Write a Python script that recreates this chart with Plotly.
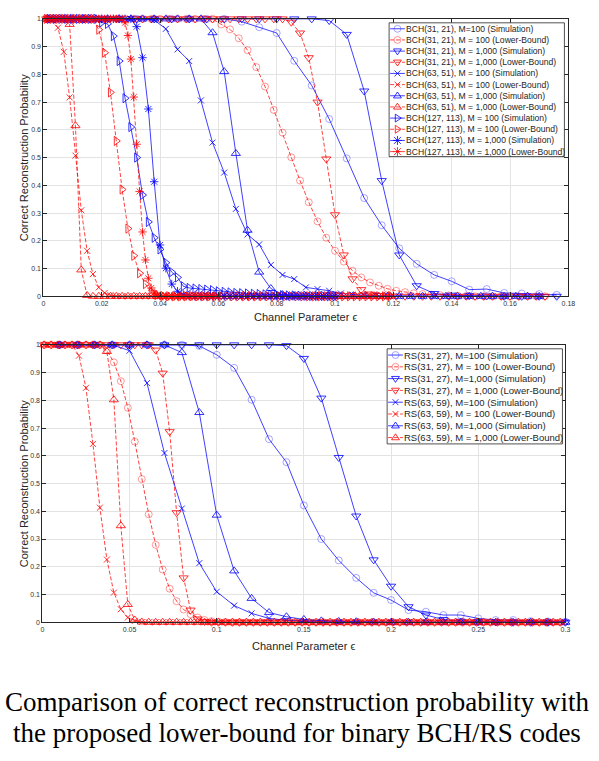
import plotly.graph_objects as go

W, H = 599, 761

# ---- top panel (BCH codes): channel parameter grids ----
X_STEP6 = [0.002, 0.008, 0.014, 0.020, 0.026, 0.032, 0.038, 0.044, 0.050, 0.056,
           0.062, 0.068, 0.074, 0.080, 0.086, 0.092, 0.098, 0.104, 0.110, 0.116,
           0.122, 0.128, 0.134, 0.140, 0.146, 0.152, 0.158, 0.164, 0.170, 0.176]
X_STEP3 = [0.001, 0.004, 0.007, 0.010, 0.013, 0.016, 0.019, 0.022, 0.025, 0.028,
           0.031, 0.034, 0.037, 0.040, 0.043, 0.046, 0.049, 0.052, 0.055, 0.058,
           0.061, 0.064, 0.067, 0.070, 0.073, 0.076, 0.079, 0.082, 0.085, 0.088,
           0.091, 0.094, 0.097, 0.100, 0.103, 0.106, 0.109, 0.112, 0.115, 0.118,
           0.121, 0.124, 0.127, 0.130, 0.133, 0.136, 0.139, 0.142, 0.145, 0.148,
           0.151, 0.154, 0.157, 0.160, 0.163, 0.166, 0.169, 0.172]
X_STEP4 = [0.002, 0.006, 0.010, 0.014, 0.018, 0.022, 0.026, 0.030, 0.034, 0.038,
           0.042, 0.046, 0.050, 0.054, 0.058, 0.062, 0.066, 0.070, 0.074, 0.078,
           0.082, 0.086, 0.090, 0.094, 0.098, 0.102, 0.106, 0.110, 0.114, 0.118,
           0.122, 0.126, 0.130, 0.134, 0.138, 0.142, 0.146, 0.150, 0.154, 0.158,
           0.162, 0.166, 0.170]
X_ODD2 = [0.001, 0.003, 0.005, 0.007, 0.009, 0.011, 0.013, 0.015, 0.017, 0.019,
          0.021, 0.023, 0.025, 0.027, 0.029, 0.031, 0.033, 0.035, 0.037, 0.039,
          0.041, 0.043, 0.045, 0.047, 0.049, 0.051, 0.053, 0.055, 0.057, 0.059,
          0.061, 0.063, 0.065, 0.067, 0.069, 0.071, 0.073, 0.075, 0.077, 0.079,
          0.081, 0.083, 0.085, 0.087, 0.089, 0.091, 0.093, 0.095, 0.097, 0.099,
          0.101, 0.103, 0.105, 0.107, 0.109, 0.111, 0.113, 0.115, 0.117, 0.119]
X_EVEN2 = [0.002, 0.004, 0.006, 0.008, 0.010, 0.012, 0.014, 0.016, 0.018, 0.020,
           0.022, 0.024, 0.026, 0.028, 0.030, 0.032, 0.034, 0.036, 0.038, 0.040,
           0.042, 0.044, 0.046, 0.048, 0.050, 0.052, 0.054, 0.056, 0.058, 0.060,
           0.062, 0.064, 0.066, 0.068, 0.070, 0.072, 0.074, 0.076, 0.078, 0.080,
           0.082, 0.084, 0.086, 0.088, 0.090, 0.092, 0.094, 0.096, 0.098, 0.100]
X_STEP1 = [0.001, 0.002, 0.003, 0.004, 0.005, 0.006, 0.007, 0.008, 0.009, 0.010,
           0.011, 0.012, 0.013, 0.014, 0.015, 0.016, 0.017, 0.018, 0.019, 0.020,
           0.021, 0.022, 0.023, 0.024, 0.025, 0.026, 0.027, 0.028, 0.029, 0.030,
           0.031, 0.032, 0.033, 0.034, 0.035, 0.036, 0.037, 0.038, 0.039, 0.040,
           0.041, 0.042, 0.043, 0.044, 0.045, 0.046, 0.047, 0.048, 0.049, 0.050,
           0.051, 0.052, 0.053, 0.054, 0.055, 0.056, 0.057, 0.058, 0.059, 0.060]

# BCH(31,21)
BCH31_M100_SIM = [1, 1, 1, 1, 1, 1, 1, 1, 1, 1,
                  1, 0.99, 0.97, 0.949, 0.849, 0.76, 0.639, 0.497, 0.354, 0.256,
                  0.173, 0.117, 0.077, 0.054, 0.024, 0.026, 0.012, 0.01, 0.008, 0.005]
BCH31_M100_LB = [1, 1, 1, 1, 1, 1, 1, 1, 1, 1,
                 1, 1, 1, 1, 1, 1, 1, 1, 1, 1,
                 0.98, 0.962, 0.93, 0.887, 0.826, 0.756, 0.672, 0.59, 0.501, 0.417,
                 0.339, 0.27, 0.211, 0.164, 0.125, 0.092, 0.068, 0.05, 0.038, 0.027,
                 0.02, 0.015, 0.011, 0.008, 0.006, 0.004, 0.003, 0.002, 0.001, 0,
                 0, 0, 0, 0, 0, 0, 0, 0]
BCH31_M1000_SIM = [1, 1, 1, 1, 1, 1, 1, 1, 1, 1,
                   1, 1, 1, 1, 1, 1, 0.994, 0.944, 0.74, 0.417,
                   0.149, 0.038, 0.01, 0.004, 0.002, 0.001, 0, 0, 0, 0]
BCH31_M1000_LB = [1, 1, 1, 1, 1, 1, 1, 1, 1, 1,
                  1, 1, 1, 1, 1, 1, 1, 1, 1, 1,
                  1, 1, 1, 1, 1, 1, 1, 1, 0.988, 0.949,
                  0.86, 0.70, 0.495, 0.294, 0.149, 0.063, 0.024, 0.008, 0.003, 0,
                  0, 0, 0, 0, 0, 0, 0, 0, 0, 0,
                  0, 0, 0, 0, 0, 0, 0, 0]
# BCH(63,51)
BCH63_M100_SIM = [1, 1, 1, 1, 1, 1, 1, 1, 1, 0.996,
                  0.964, 0.89, 0.848, 0.706, 0.554, 0.446, 0.315, 0.223, 0.187, 0.113,
                  0.077, 0.062, 0.032, 0.026, 0.02, 0.01, 0.006, 0.004, 0.002, 0.001,
                  0, 0, 0, 0, 0, 0, 0, 0, 0, 0,
                  0, 0, 0]
BCH63_M100_LB = [1, 0.995, 0.968, 0.881, 0.717, 0.507, 0.31, 0.164, 0.08, 0.032,
                 0.012, 0.004, 0.001, 0, 0, 0, 0, 0, 0, 0,
                 0, 0, 0, 0, 0, 0, 0, 0, 0, 0,
                 0, 0, 0, 0, 0, 0, 0, 0, 0, 0,
                 0, 0, 0, 0, 0, 0, 0, 0, 0, 0,
                 0, 0, 0, 0, 0, 0, 0, 0, 0, 0]
BCH63_M1000_SIM = [1, 1, 1, 1, 1, 1, 1, 1, 1, 1,
                   1, 1, 1, 1, 0.95, 0.81, 0.515, 0.238, 0.087, 0.028,
                   0.006, 0.002, 0, 0, 0, 0, 0, 0, 0, 0,
                   0, 0, 0, 0, 0, 0, 0, 0, 0, 0,
                   0, 0, 0]
BCH63_M1000_LB = [1, 1, 1, 1, 0.98, 0.615, 0.095, 0.003, 0, 0,
                  0, 0, 0, 0, 0, 0, 0, 0, 0, 0,
                  0, 0, 0, 0, 0, 0, 0, 0, 0, 0,
                  0, 0, 0, 0, 0, 0, 0, 0, 0, 0,
                  0, 0, 0, 0, 0, 0, 0, 0, 0, 0,
                  0, 0, 0, 0, 0, 0, 0, 0, 0, 0]
# BCH(127,113)
BCH127_M100_SIM = [1, 1, 1, 1, 1, 1, 1, 1, 1, 0.987,
                   0.982, 0.938, 0.848, 0.714, 0.61, 0.5, 0.365, 0.268, 0.211, 0.169,
                   0.121, 0.087, 0.068, 0.036, 0.03, 0.028, 0.026, 0.024, 0.022, 0.018,
                   0.016, 0.014, 0.012, 0.011, 0.01, 0.009, 0.008, 0.007, 0.006, 0.005,
                   0.004, 0.003, 0.003, 0.002, 0.002, 0.001, 0.001, 0.001, 0, 0]
BCH127_M100_LB = [1, 1, 1, 1, 1, 1, 1, 1, 1, 0.961,
                  0.878, 0.735, 0.56, 0.385, 0.244, 0.146, 0.083, 0.044, 0.015, 0.005,
                  0.001, 0, 0, 0, 0, 0, 0, 0, 0, 0,
                  0, 0, 0, 0, 0, 0, 0, 0, 0, 0,
                  0, 0, 0, 0, 0, 0, 0, 0, 0, 0,
                  0, 0, 0, 0, 0, 0, 0, 0, 0, 0]
BCH127_M1000_SIM = [1, 1, 1, 1, 1, 1, 1, 1, 1, 1,
                    1, 1, 1, 1, 1, 0.972, 0.86, 0.675, 0.413, 0.185,
                    0.101, 0.044, 0.018, 0.006, 0.002, 0, 0, 0, 0, 0,
                    0, 0, 0, 0, 0, 0, 0, 0, 0, 0,
                    0, 0, 0, 0, 0, 0, 0, 0, 0, 0]
BCH127_M1000_LB = [1, 1, 1, 1, 1, 1, 1, 1, 1, 1,
                   1, 1, 1, 1, 1, 1, 1, 1, 1, 1,
                   1, 1, 1, 1, 1, 1, 1, 0.986, 0.94, 0.855,
                   0.718, 0.548, 0.378, 0.232, 0.131, 0.065, 0.03, 0.012, 0.004, 0.001,
                   0, 0, 0, 0, 0, 0, 0, 0, 0, 0,
                   0, 0, 0, 0, 0, 0, 0, 0, 0, 0]

# ---- bottom panel (RS codes) ----
X_RS_SIM = [0.01, 0.02, 0.03, 0.04, 0.05, 0.06, 0.07, 0.08, 0.09, 0.10,
            0.11, 0.12, 0.13, 0.14, 0.15, 0.16, 0.17, 0.18, 0.19, 0.20,
            0.21, 0.22, 0.23, 0.24, 0.25, 0.26, 0.27, 0.28, 0.29, 0.30]
X_RS_LB = [0.001, 0.005, 0.009, 0.013, 0.017, 0.021, 0.025, 0.029, 0.033, 0.037,
           0.041, 0.045, 0.049, 0.053, 0.057, 0.061, 0.065, 0.069, 0.073, 0.077,
           0.081, 0.085, 0.089, 0.093, 0.097, 0.101, 0.105, 0.109, 0.113, 0.117,
           0.121, 0.125, 0.129, 0.133, 0.137, 0.141, 0.145, 0.149, 0.153, 0.157,
           0.161, 0.165, 0.169, 0.173, 0.177, 0.181, 0.185, 0.189, 0.193, 0.197,
           0.201, 0.205, 0.209, 0.213, 0.217, 0.221, 0.225, 0.229, 0.233, 0.237,
           0.241, 0.245, 0.249, 0.253, 0.257, 0.261, 0.265, 0.269, 0.273, 0.277,
           0.281, 0.285, 0.289, 0.293, 0.297]

RS31_M100_SIM = [1, 1, 1, 1, 1, 1, 1, 1, 0.996, 0.964,
                 0.917, 0.802, 0.66, 0.577, 0.421, 0.3, 0.223, 0.16, 0.106, 0.08,
                 0.044, 0.038, 0.026, 0.026, 0.014, 0.008, 0.008, 0.004, 0.003, 0.002]
RS31_M100_LB = [1, 1, 1, 1, 1, 1, 1, 1, 1, 0.98,
                0.937, 0.869, 0.773, 0.651, 0.516, 0.389, 0.279, 0.19, 0.121, 0.076,
                0.046, 0.029, 0.017, 0.008, 0.004, 0.002, 0.001, 0, 0, 0,
                0, 0, 0, 0, 0, 0, 0, 0, 0, 0,
                0, 0, 0, 0, 0, 0, 0, 0, 0, 0,
                0, 0, 0, 0, 0, 0, 0, 0, 0, 0,
                0, 0, 0, 0, 0, 0, 0, 0, 0, 0,
                0, 0, 0, 0, 0]
RS31_M1000_SIM = [1, 1, 1, 1, 1, 1, 1, 1, 1, 1,
                  1, 1, 1, 0.997, 0.951, 0.808, 0.594, 0.383, 0.225, 0.13,
                  0.056, 0.026, 0.01, 0.004, 0.002, 0.001, 0, 0, 0, 0]
RS31_M1000_LB = [1, 1, 1, 1, 1, 1, 1, 1, 1, 1,
                 1, 1, 1, 1, 1, 1, 0.981, 0.898, 0.687, 0.395,
                 0.16, 0.044, 0.012, 0.003, 0, 0, 0, 0, 0, 0,
                 0, 0, 0, 0, 0, 0, 0, 0, 0, 0,
                 0, 0, 0, 0, 0, 0, 0, 0, 0, 0,
                 0, 0, 0, 0, 0, 0, 0, 0, 0, 0,
                 0, 0, 0, 0, 0, 0, 0, 0, 0, 0,
                 0, 0, 0, 0, 0]
RS63_M100_SIM = [1, 1, 1, 1, 0.979, 0.862, 0.61, 0.41, 0.213, 0.11,
                 0.06, 0.032, 0.014, 0.007, 0.003, 0.001, 0, 0, 0, 0,
                 0, 0, 0, 0, 0, 0, 0, 0, 0, 0]
RS63_M100_LB = [1, 1, 1, 1, 1, 0.961, 0.845, 0.643, 0.413, 0.226,
                0.107, 0.047, 0.017, 0.005, 0.001, 0, 0, 0, 0, 0,
                0, 0, 0, 0, 0, 0, 0, 0, 0, 0,
                0, 0, 0, 0, 0, 0, 0, 0, 0, 0,
                0, 0, 0, 0, 0, 0, 0, 0, 0, 0,
                0, 0, 0, 0, 0, 0, 0, 0, 0, 0,
                0, 0, 0, 0, 0, 0, 0, 0, 0, 0,
                0, 0, 0, 0, 0]
RS63_M1000_SIM = [1, 1, 1, 1, 1, 1, 1, 0.972, 0.756, 0.386,
                  0.185, 0.086, 0.035, 0.02, 0.01, 0.005, 0.003, 0.002, 0.001, 0,
                  0, 0, 0, 0, 0, 0, 0, 0, 0, 0]
RS63_M1000_LB = [1, 1, 1, 1, 1, 1, 1, 1, 1, 0.976,
                 0.802, 0.348, 0.064, 0.008, 0.001, 0, 0, 0, 0, 0,
                 0, 0, 0, 0, 0, 0, 0, 0, 0, 0,
                 0, 0, 0, 0, 0, 0, 0, 0, 0, 0,
                 0, 0, 0, 0, 0, 0, 0, 0, 0, 0,
                 0, 0, 0, 0, 0, 0, 0, 0, 0, 0,
                 0, 0, 0, 0, 0, 0, 0, 0, 0, 0,
                 0, 0, 0, 0, 0]

TOP_LABELS = [
    "BCH(31, 21), M=100 (Simulation)", "BCH(31, 21), M = 100 (Lower-Bound)",
    "BCH(31, 21), M = 1,000 (Simulation)", "BCH(31, 21), M = 1,000 (Lower-Bound)",
    "BCH(63, 51), M = 100 (Simulation)", "BCH(63, 51), M = 100 (Lower-Bound)",
    "BCH(63, 51), M = 1,000 (Simulation)", "BCH(63, 51), M = 1,000 (Lower-Bound)",
    "BCH(127, 113), M = 100 (Simulation)", "BCH(127, 113), M = 100 (Lower-Bound)",
    "BCH(127, 113), M = 1,000 (Simulation)", "BCH(127, 113), M = 1,000 (Lower-Bound)",
]
BOTTOM_LABELS = [
    "RS(31, 27), M=100 (Simulation)", "RS(31, 27), M = 100 (Lower-Bound)",
    "RS(31, 27), M=1,000 (Simulation)", "RS(31, 27), M = 1,000 (Lower-Bound)",
    "RS(63, 59), M=100 (Simulation)", "RS(63, 59), M = 100 (Lower-Bound)",
    "RS(63, 59), M=1,000 (Simulation)", "RS(63, 59), M = 1,000 (Lower-Bound)",
]
TOP_DATA = [
    (X_STEP6, BCH31_M100_SIM), (X_STEP3, BCH31_M100_LB),
    (X_STEP6, BCH31_M1000_SIM), (X_STEP3, BCH31_M1000_LB),
    (X_STEP4, BCH63_M100_SIM), (X_ODD2, BCH63_M100_LB),
    (X_STEP4, BCH63_M1000_SIM), (X_ODD2, BCH63_M1000_LB),
    (X_EVEN2, BCH127_M100_SIM), (X_ODD2, BCH127_M100_LB),
    (X_EVEN2, BCH127_M1000_SIM), (X_STEP1, BCH127_M1000_LB),
]
BOTTOM_DATA = [
    (X_RS_SIM, RS31_M100_SIM), (X_RS_LB, RS31_M100_LB),
    (X_RS_SIM, RS31_M1000_SIM), (X_RS_LB, RS31_M1000_LB),
    (X_RS_SIM, RS63_M100_SIM), (X_RS_LB, RS63_M100_LB),
    (X_RS_SIM, RS63_M1000_SIM), (X_RS_LB, RS63_M1000_LB),
]

# styles: simulation = solid blue, lower bound = dashed red; marker per code/M
BLUE_LINE = "rgba(0,0,255,0.75)"
RED_LINE = "rgba(255,0,0,0.75)"
MARKERS = ["circle", "triangle-down", "x", "triangle-up", "triangle-right", "asterisk"]


def style_for(i):
    sim = i % 2 == 0
    sym = MARKERS[i // 2]
    line = BLUE_LINE if sim else RED_LINE
    if sym == "circle":
        mcol = "rgba(40,40,255,0.4)" if sim else "rgba(255,0,0,0.4)"
    else:
        mcol = "rgba(0,0,255,0.8)" if sim else "rgba(255,0,0,0.8)"
    return dict(line=line, dash="solid" if sim else "4px,2px", symbol=sym, mcol=mcol)


SYMBOL_NAME = {"circle": "circle-open", "triangle-down": "triangle-down-open",
               "triangle-up": "triangle-up-open", "triangle-right": "triangle-right-open",
               "x": "x-thin-open", "asterisk": "asterisk-open"}
SYMBOL_SIZE = {"circle": 7, "triangle-down": 8, "triangle-up": 8,
               "triangle-right": 8, "x": 6, "asterisk": 7}

FONT = "Liberation Sans, Arial, sans-serif"
INK = "#262626"


def pxx(x):
    return x / W


def pxy(y):
    return 1 - y / H


fig = go.Figure()

panels = [
    (TOP_DATA, "x", "y"),
    (BOTTOM_DATA, "x2", "y2"),
]
for series, xa, ya in panels:
    for i, (xs, ys) in enumerate(series):
        st = style_for(i)
        fig.add_trace(go.Scatter(
            x=xs, y=ys, xaxis=xa, yaxis=ya, mode="lines+markers",
            line=dict(color=st["line"], width=1, dash=st["dash"]),
            marker=dict(symbol=SYMBOL_NAME[st["symbol"]], size=SYMBOL_SIZE[st["symbol"]],
                        color=st["mcol"], line=dict(color=st["mcol"], width=1)),
            cliponaxis=False, showlegend=False, hoverinfo="skip",
        ))


def marker_shape(sym, cx, cy, r, color):
    line = dict(color=color, width=1)
    if sym == "circle":
        fig.add_shape(type="circle", xref="paper", yref="paper",
                      x0=pxx(cx - r), x1=pxx(cx + r), y0=pxy(cy + r), y1=pxy(cy - r), line=line)
        return
    if sym == "triangle-down":
        pts = [(cx - r, cy - 0.55 * r), (cx + r, cy - 0.55 * r), (cx, cy + 0.95 * r)]
    elif sym == "triangle-up":
        pts = [(cx - r, cy + 0.55 * r), (cx + r, cy + 0.55 * r), (cx, cy - 0.95 * r)]
    elif sym == "triangle-right":
        pts = [(cx - 0.55 * r, cy - r), (cx - 0.55 * r, cy + r), (cx + 0.95 * r, cy)]
    else:
        pts = None
    if pts:
        path = "M" + " L".join(f"{pxx(a)},{pxy(b)}" for a, b in pts) + " Z"
    else:
        segs = [((cx - r, cy - r), (cx + r, cy + r)), ((cx - r, cy + r), (cx + r, cy - r))]
        if sym == "asterisk":
            segs += [((cx - 1.3 * r, cy), (cx + 1.3 * r, cy)), ((cx, cy - 1.3 * r), (cx, cy + 1.3 * r))]
        path = " ".join(f"M{pxx(a[0])},{pxy(a[1])} L{pxx(b[0])},{pxy(b[1])}" for a, b in segs)
    fig.add_shape(type="path", xref="paper", yref="paper", path=path, line=line)


def add_legend(labels, box, first, step, x0, x1, fsize):
    bx0, by0, bx1, by1 = box
    fig.add_shape(type="rect", xref="paper", yref="paper",
                  x0=pxx(bx0), x1=pxx(bx1), y0=pxy(by1), y1=pxy(by0),
                  line=dict(color=INK, width=0.8), fillcolor="white", layer="above")
    for i, label in enumerate(labels):
        st = style_for(i)
        cy = first + i * step
        fig.add_shape(type="line", xref="paper", yref="paper",
                      x0=pxx(x0), x1=pxx(x1), y0=pxy(cy), y1=pxy(cy),
                      line=dict(color=st["line"], width=1, dash=st["dash"]))
        r = SYMBOL_SIZE[st["symbol"]] / 2
        marker_shape(st["symbol"], (x0 + x1) / 2, cy, r, st["mcol"])
        fig.add_annotation(xref="paper", yref="paper", x=pxx(x1 - 1), y=pxy(cy),
                           text=label, showarrow=False, xanchor="left", yanchor="middle",
                           font=dict(family=FONT, size=fsize, color=INK))


add_legend(TOP_LABELS, (393, 19, 571, 154), 25, 11.27, 394, 409, 8.6)
add_legend(BOTTOM_LABELS, (391, 348, 569, 444), 354.3, 11.9, 392, 407, 9.5)

# axis titles
for cy in (155, 484):
    fig.add_annotation(xref="paper", yref="paper", x=pxx(22), y=pxy(cy),
                       text="Correct Reconstruction Probability", textangle=-90,
                       xanchor="center", yanchor="middle",
                       showarrow=False, font=dict(family=FONT, size=11, color=INK))
for cx, cy in ((308.5, 316), (306.5, 648)):
    fig.add_annotation(xref="paper", yref="paper", x=pxx(cx), y=pxy(cy),
                       text="Channel Parameter ϵ", showarrow=False,
                       xanchor="center", yanchor="middle",
                       font=dict(family=FONT, size=11, color=INK))

# caption
CAPTION = ["Comparison of correct reconstruction probability with",
           "the proposed lower-bound for binary BCH/RS codes"]
for line, cy in zip(CAPTION, (704, 736)):
    fig.add_annotation(xref="paper", yref="paper", x=0.5, y=pxy(cy), text=line,
                       showarrow=False, xanchor="center", yanchor="middle",
                       font=dict(family="Liberation Serif, Times New Roman, serif",
                                 size=27, color="black"))

axis_style = dict(
    showline=True, mirror="ticks", linecolor=INK, linewidth=1,
    ticks="inside", ticklen=4, tickwidth=0.8, tickcolor=INK,
    showgrid=True, gridcolor="#e3e3e3", gridwidth=1, zeroline=False,
    tickfont=dict(family=FONT, size=7, color="#333333"),
)

fig.update_layout(
    width=W, height=H, autosize=False,
    margin=dict(l=0, r=0, t=0, b=0),
    paper_bgcolor="white", plot_bgcolor="white",
    showlegend=False,
    xaxis=dict(domain=[42 / W, 575 / W], range=[0, 0.18], tick0=0, dtick=0.02,
               anchor="y", **axis_style),
    yaxis=dict(domain=[1 - 295 / H, 1 - 15 / H], range=[0, 1], tick0=0, dtick=0.1,
               anchor="x", **axis_style),
    xaxis2=dict(domain=[41 / W, 572 / W], range=[0, 0.3], tick0=0, dtick=0.05,
                anchor="y2", **axis_style),
    yaxis2=dict(domain=[1 - 624 / H, 1 - 344 / H], range=[0, 1], tick0=0, dtick=0.1,
                anchor="x2", **axis_style),
)

fig.write_html("out.html", config={"displayModeBar": False},
               post_script="document.body.style.margin='0px';")
